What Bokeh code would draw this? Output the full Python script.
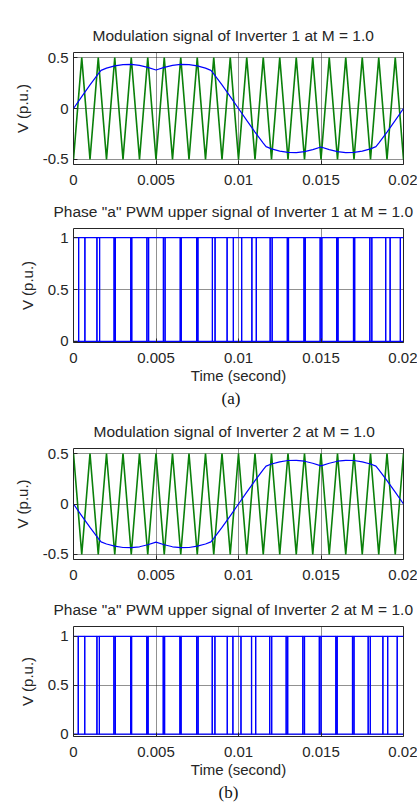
from bokeh.plotting import figure
from bokeh.models import FixedTicker, Title, LinearAxis, Range1d
from bokeh.layouts import column
from bokeh.embed import file_html
from bokeh.resources import INLINE

# ---------------- data ----------------
carrier_t = [0.0, 0.0005, 0.001, 0.0015, 0.002, 0.0025, 0.003, 0.0035, 0.004, 0.0045,
             0.005, 0.0055, 0.006, 0.0065, 0.007, 0.0075, 0.008, 0.0085, 0.009, 0.0095,
             0.01, 0.0105, 0.011, 0.0115, 0.012, 0.0125, 0.013, 0.0135, 0.014, 0.0145,
             0.015, 0.0155, 0.016, 0.0165, 0.017, 0.0175, 0.018, 0.0185, 0.019, 0.0195, 0.02]
carrier1_v = [-0.5, 0.5, -0.5, 0.5, -0.5, 0.5, -0.5, 0.5, -0.5, 0.5,
              -0.5, 0.5, -0.5, 0.5, -0.5, 0.5, -0.5, 0.5, -0.5, 0.5,
              -0.5, 0.5, -0.5, 0.5, -0.5, 0.5, -0.5, 0.5, -0.5, 0.5,
              -0.5, 0.5, -0.5, 0.5, -0.5, 0.5, -0.5, 0.5, -0.5, 0.5, -0.5]
carrier2_v = [0.5, -0.5, 0.5, -0.5, 0.5, -0.5, 0.5, -0.5, 0.5, -0.5,
              0.5, -0.5, 0.5, -0.5, 0.5, -0.5, 0.5, -0.5, 0.5, -0.5,
              0.5, -0.5, 0.5, -0.5, 0.5, -0.5, 0.5, -0.5, 0.5, -0.5,
              0.5, -0.5, 0.5, -0.5, 0.5, -0.5, 0.5, -0.5, 0.5, -0.5, 0.5]

mod_t = [0.0, 0.0005, 0.001, 0.0015, 0.00167, 0.002, 0.0025, 0.003, 0.0035, 0.004, 0.0045,
         0.005, 0.0055, 0.006, 0.0065, 0.007, 0.0075, 0.008, 0.00833, 0.0085, 0.009, 0.0095,
         0.01, 0.0105, 0.011, 0.0115, 0.01167, 0.012, 0.0125, 0.013, 0.0135, 0.014, 0.0145,
         0.015, 0.0155, 0.016, 0.0165, 0.017, 0.0175, 0.018, 0.01833, 0.0185, 0.019, 0.0195, 0.02]
mod1_v = [0.0, 0.117, 0.232, 0.340, 0.375, 0.396, 0.418, 0.431, 0.433, 0.424, 0.404,
          0.378, 0.404, 0.424, 0.433, 0.431, 0.418, 0.396, 0.375, 0.340, 0.232, 0.117,
          0.0, -0.117, -0.232, -0.340, -0.375, -0.396, -0.418, -0.431, -0.433, -0.424, -0.404,
          -0.378, -0.404, -0.424, -0.433, -0.431, -0.418, -0.396, -0.375, -0.340, -0.232, -0.117, 0.0]
mod2_v = [0.0, -0.117, -0.232, -0.340, -0.375, -0.396, -0.418, -0.431, -0.433, -0.424, -0.404,
          -0.378, -0.404, -0.424, -0.433, -0.431, -0.418, -0.396, -0.375, -0.340, -0.232, -0.117,
          0.0, 0.117, 0.232, 0.340, 0.375, 0.396, 0.418, 0.431, 0.433, 0.424, 0.404,
          0.378, 0.404, 0.424, 0.433, 0.431, 0.418, 0.396, 0.375, 0.340, 0.232, 0.117, 0.0]

# switching instants of the phase "a" upper PWM signals
pwm1_edges = [0.00031, 0.00069, 0.00142, 0.00158, 0.00246, 0.00254, 0.00347, 0.00353,
              0.00445, 0.00455, 0.00545, 0.00555, 0.00647, 0.00653, 0.00746, 0.00754,
              0.00842, 0.00858, 0.00931, 0.00969, 0.01019, 0.01081, 0.01108, 0.01192,
              0.01204, 0.01296, 0.01303, 0.01397, 0.01405, 0.01495, 0.01505, 0.01595,
              0.01603, 0.01697, 0.01704, 0.01796, 0.01808, 0.01892, 0.01919, 0.01981]
pwm1_start = 1
pwm2_edges = [0.00029, 0.00068, 0.00142, 0.00157, 0.00245, 0.00254, 0.00346, 0.00352,
              0.00444, 0.00452, 0.00544, 0.00552, 0.00645, 0.00652, 0.00746, 0.00755,
              0.00841, 0.00857, 0.00932, 0.00966, 0.01015, 0.01079, 0.01104, 0.01189,
              0.01201, 0.01289, 0.01298, 0.01390, 0.01400, 0.01490, 0.01500, 0.01590,
              0.01598, 0.01691, 0.01700, 0.01786, 0.01799, 0.01875, 0.01904, 0.01962]
pwm2_start = 0

x_ticks = [0.0, 0.005, 0.01, 0.015, 0.02]
x_tick_labels = ["0", "0.005", "0.01", "0.015", "0.02"]
mod_y_ticks = [-0.5, 0.0, 0.5]
mod_y_tick_labels = ["-0.5", "0", "0.5"]
pwm_y_ticks = [0.0, 0.5, 1.0]
pwm_y_tick_labels = ["0", "0.5", "1"]

titles = ["Modulation signal of Inverter 1 at M = 1.0",
          "Phase \"a\" PWM upper signal of Inverter 1 at M = 1.0",
          "Modulation signal of Inverter 2 at M = 1.0",
          "Phase \"a\" PWM upper signal of Inverter 2 at M = 1.0"]
y_label = "V (p.u.)"
x_label = "Time (second)"
captions = ["(a)", "(b)"]

FONT = "Liberation Sans"
TXT = "#262626"
BLUE = "#0000ff"
GREEN = "#0a800a"


def make_fig(h, left, right, top, bottom, yr, yticks, ylabels, title, title_offset,
             xlabel=None, caption=None, cap_offset=0):
    p = figure(width=417, height=h, x_range=Range1d(x_ticks[0], x_ticks[-1]),
               y_range=Range1d(*yr), output_backend="svg", toolbar_location=None,
               min_border_left=left, min_border_right=right,
               min_border_top=top, min_border_bottom=bottom)
    p.background_fill_color = "white"
    p.border_fill_color = "white"
    p.outline_line_color = TXT
    p.outline_line_width = 1
    p.title.text = title
    p.title.align = "left"
    p.title.offset = title_offset
    p.title.text_font = FONT
    p.title.text_font_size = "15.5px"
    p.title.text_font_style = "normal"
    p.title.text_color = TXT
    p.title.standoff = 17

    p.xaxis.ticker = FixedTicker(ticks=x_ticks)
    p.xaxis.major_label_overrides = dict(zip(x_ticks, x_tick_labels))
    p.yaxis.ticker = FixedTicker(ticks=yticks)
    p.yaxis.major_label_overrides = dict(zip(yticks, ylabels))
    for ax in (p.xaxis[0], p.yaxis[0]):
        ax.axis_line_color = None
        ax.major_tick_in = 4
        ax.major_tick_out = 0
        ax.major_tick_line_color = TXT
        ax.minor_tick_line_color = None
        ax.major_label_text_font = FONT
        ax.major_label_text_font_size = "15px"
        ax.major_label_text_color = TXT
        ax.axis_label_text_font = FONT
        ax.axis_label_text_font_size = "15px"
        ax.axis_label_text_font_style = "normal"
        ax.axis_label_text_color = TXT
    p.xaxis.major_label_standoff = 10
    p.yaxis.major_label_standoff = 5
    p.yaxis.axis_label = y_label
    p.yaxis.axis_label_standoff = 9
    if xlabel:
        p.xaxis.axis_label = xlabel
        p.xaxis.axis_label_standoff = 1

    for g in (p.xgrid[0], p.ygrid[0]):
        g.grid_line_color = "#222222"
        g.grid_line_dash = "1 1"
        g.grid_line_width = 1
        g.grid_line_alpha = 1.0

    if caption:
        p.add_layout(Title(text=caption, align="left", offset=cap_offset,
                           text_font="Liberation Serif", text_font_size="17px",
                           text_font_style="normal", text_color="#111111", standoff=0),
                     "below")
    return p


def step_path(edges, start):
    xs = [x_ticks[0]]
    ys = [start]
    lvl = start
    for e in edges:
        xs += [e, e]
        ys += [lvl, 1 - lvl]
        lvl = 1 - lvl
    xs.append(x_ticks[-1])
    ys.append(lvl)
    return xs, ys


p1 = make_fig(190, 70, 12, 52, 26, (-0.55, 0.55), mod_y_ticks, mod_y_tick_labels, titles[0], 19)
p1.line(carrier_t, carrier1_v, line_color=GREEN, line_width=1.6)
p1.line(mod_t, mod1_v, line_color=BLUE, line_width=1.2)

p2 = make_fig(220, 70, 12, 38, 68, (-0.01, 1.087), pwm_y_ticks, pwm_y_tick_labels, titles[1], -20,
              xlabel=x_label, caption=captions[0], cap_offset=148)
xs, ys = step_path(pwm1_edges, pwm1_start)
p2.line(xs, ys, line_color=BLUE, line_width=1.2)
p2.line(xs, [1 - y for y in ys], line_color=BLUE, line_width=1.2)

p3 = make_fig(180, 73, 14, 38, 31, (-0.55, 0.55), mod_y_ticks, mod_y_tick_labels, titles[2], 20)
p3.line(carrier_t, carrier2_v, line_color=GREEN, line_width=1.6)
p3.line(mod_t, mod2_v, line_color=BLUE, line_width=1.2)

p4 = make_fig(217, 73, 14, 33, 71, (-0.025, 1.1), pwm_y_ticks, pwm_y_tick_labels, titles[3], -20,
              xlabel=x_label, caption=captions[1], cap_offset=145)
xs, ys = step_path(pwm2_edges, pwm2_start)
p4.line(xs, ys, line_color=BLUE, line_width=1.2)
p4.line(xs, [1 - y for y in ys], line_color=BLUE, line_width=1.2)

layout = column(p1, p2, p3, p4, spacing=0)
open("out.html", "w").write(file_html(layout, INLINE))
